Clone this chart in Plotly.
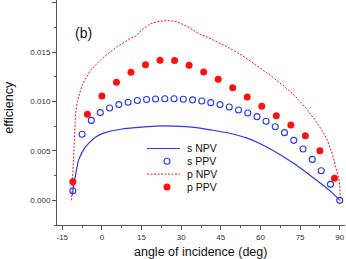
import plotly.graph_objects as go

# s NPV (blue solid line)
s_npv_x = [-11.2, -10.8, -10.1, -8.8, -6.3, -2.5, 1.2, 7.6, 14, 20.2, 27, 35.7, 42, 48.3, 55, 60.9, 67, 73.5, 79, 83.6, 87, 90]
s_npv_y = [0.0005, 0.0013, 0.0024, 0.0041, 0.0054, 0.0064, 0.00686, 0.00723, 0.0074, 0.00752, 0.00752, 0.00737, 0.0071, 0.0068, 0.0063, 0.00561, 0.0047, 0.00358, 0.0025, 0.00155, 0.0008, 0.0]

# s PPV (blue open circles)
s_ppv_x = [-11, -7.5, -4.0, -0.6, 2.9, 6.4, 9.9, 13.4, 16.9, 20.3, 23.8, 27.3, 30.8, 34.3, 37.8,
           41.2, 44.7, 48.2, 51.7, 55.2, 58.7, 62.1, 65.6, 69.1, 72.6, 76.1, 79.6, 83.0, 86.5, 90.0]
s_ppv_y = [0.00097, 0.0067, 0.0081, 0.00889, 0.00936, 0.0097, 0.00994, 0.01012, 0.01022, 0.01027,
           0.0103, 0.0103, 0.01025, 0.01018, 0.01007, 0.0099, 0.0097, 0.00946, 0.00916, 0.00885,
           0.00848, 0.00801, 0.00746, 0.00686, 0.00608, 0.0052, 0.00415, 0.003, 0.00162, 0.0]

# p NPV (red dashed line)
p_npv_x = [-11.5, -11.0, -10.6, -10.0, -9.3, -7.5, -4.3, 0.8, 5.8, 10, 12.1, 13.0, 14.0, 15.9, 18.5, 20.9,
           24.7, 27.5, 29.7, 33.5, 36.5, 39.5, 44, 48.3, 53, 58.4, 63, 68.4, 73, 77.3, 80.5, 83.6,
           85.5, 87.3, 88.8, 89.9, 90.3]
p_npv_y = [0.0, 0.0035, 0.0063, 0.00865, 0.0100, 0.0117, 0.0132, 0.01456, 0.01558, 0.0163, 0.0166, 0.01665,
           0.0170, 0.01745, 0.0179, 0.01811, 0.01822, 0.01815, 0.01795, 0.01745, 0.0169, 0.0166, 0.0160,
           0.01542, 0.0147, 0.01372, 0.0128, 0.01169, 0.0106, 0.00933, 0.0082, 0.00696, 0.0060, 0.0046,
           0.0032, 0.0019, 0.0]

# p PPV (red filled dots)
p_ppv_x = [-11, -5.5, 0, 5.5, 11, 16.5, 22, 27.5, 33, 38.5, 44, 49.5, 55, 60.5, 66, 71.5, 77, 82.5, 88]
p_ppv_y = [0.00189, 0.00872, 0.01058, 0.01197, 0.01298, 0.01375, 0.0142, 0.01416, 0.0137, 0.0130,
           0.01227, 0.01142, 0.01048, 0.00953, 0.00858, 0.00764, 0.00655, 0.00503, 0.00223]

series_names = ["s NPV", "s PPV", "p NPV", "p PPV"]
x_ticks = [-15, 0, 15, 30, 45, 60, 75, 90]
y_ticks = [0.000, 0.005, 0.010, 0.015, 0.020]

BLUE = "#2b35f0"
RED = "#ff1010"
FONT = "Arial, Liberation Sans, sans-serif"
DASH = "2px,1.5px"

fig = go.Figure()
fig.add_trace(go.Scatter(x=s_npv_x, y=s_npv_y, mode="lines", name=series_names[0],
                         line=dict(color=BLUE, width=1.2, shape="spline", smoothing=0.6)))
fig.add_trace(go.Scatter(x=s_ppv_x, y=s_ppv_y, mode="markers", name=series_names[1],
                         marker=dict(symbol="circle-open", color=BLUE, size=6, line=dict(width=1.1))))
fig.add_trace(go.Scatter(x=p_npv_x, y=p_npv_y, mode="lines", name=series_names[2],
                         line=dict(color=RED, width=1, dash=DASH)))
fig.add_trace(go.Scatter(x=p_ppv_x, y=p_ppv_y, mode="markers", name=series_names[3],
                         marker=dict(symbol="circle", color=RED, size=7)))

axis_common = dict(showline=True, linecolor="#555555", linewidth=1, ticks="outside",
                   tickcolor="#555555", ticklen=4, tickwidth=1, showgrid=False, zeroline=False,
                   automargin=False,
                   tickfont=dict(family=FONT, size=8, color="#333333"))

fig.update_xaxes(range=[-17, 92], tickvals=x_ticks, ticktext=[str(v) for v in x_ticks],
                 minor=dict(ticks="outside", ticklen=2, tickcolor="#555555", tickwidth=1, showgrid=False,
                            tickvals=[-7.5 + 15 * i for i in range(7)]),
                 **axis_common)
fig.update_yaxes(range=[-0.0025, 0.0203], tickvals=y_ticks, ticktext=[f"{v:.3f}" for v in y_ticks],
                 minor=dict(ticks="outside", ticklen=2, tickcolor="#555555", tickwidth=1, showgrid=False,
                            tickvals=[-0.0025 + 0.005 * i for i in range(5)]),
                 **axis_common)

# panel label
fig.add_annotation(x=-10.8, y=0.0170, xref="x", yref="y", text="(b)", showarrow=False,
                   xanchor="left", yanchor="middle", font=dict(family=FONT, size=14, color="#111111"))

# axis titles
fig.add_annotation(x=0.497, y=-0.122, xref="paper", yref="paper", text="angle of incidence (deg)",
                   showarrow=False, xanchor="center", yanchor="middle",
                   font=dict(family=FONT, size=12.5, color="#111111"))
fig.add_annotation(x=-0.168, y=0.524, xref="paper", yref="paper", text="efficiency", textangle=-90,
                   showarrow=False, xanchor="center", yanchor="middle",
                   font=dict(family=FONT, size=12.5, color="#111111"))

# manual legend (compact row spacing as in the reference)
def px_x(p):
    return (p - 57) / 288.0

def px_y(p):
    return (225 - p) / 225.0

rows = [148.5, 161.3, 174.1, 187.0]
sym_l, sym_r, sym_c, text_l = 147, 180, 167, 185
fig.add_shape(type="line", xref="paper", yref="paper", x0=px_x(sym_l), x1=px_x(sym_r),
              y0=px_y(rows[0]), y1=px_y(rows[0]), line=dict(color=BLUE, width=1.2))
fig.add_shape(type="circle", xref="paper", yref="paper", x0=px_x(sym_c - 3), x1=px_x(sym_c + 3),
              y0=px_y(rows[1] + 3), y1=px_y(rows[1] - 3), line=dict(color=BLUE, width=1.1))
fig.add_shape(type="line", xref="paper", yref="paper", x0=px_x(sym_l), x1=px_x(sym_r),
              y0=px_y(rows[2]), y1=px_y(rows[2]), line=dict(color=RED, width=1, dash=DASH))
fig.add_shape(type="circle", xref="paper", yref="paper", x0=px_x(sym_c - 3.5), x1=px_x(sym_c + 3.5),
              y0=px_y(rows[3] + 3.5), y1=px_y(rows[3] - 3.5), line=dict(color=RED, width=0),
              fillcolor=RED)
for name, r in zip(series_names, rows):
    fig.add_annotation(x=px_x(text_l), y=px_y(r), xref="paper", yref="paper", text=name,
                       showarrow=False, xanchor="left", yanchor="middle",
                       font=dict(family=FONT, size=10.5, color="#111111"))

fig.update_layout(
    width=346, height=259,
    margin=dict(l=57, r=1, t=0, b=34, autoexpand=False),
    paper_bgcolor="white", plot_bgcolor="white",
    showlegend=False,
)

fig.write_html("out.html", config={"displayModeBar": False},
               post_script="document.body.style.margin='0px';document.body.style.padding='0px';document.body.style.overflow='hidden';")
